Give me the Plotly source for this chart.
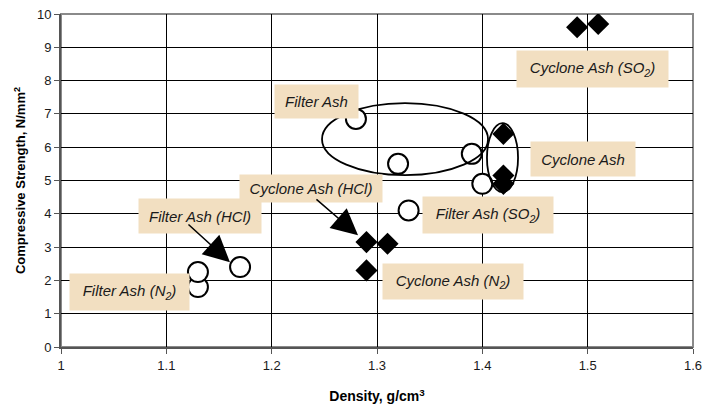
import plotly.graph_objects as go

# ---- data ----
filter_x = [1.13, 1.13, 1.17, 1.28, 1.32, 1.39, 1.40, 1.33]
filter_y = [1.8, 2.25, 2.4, 6.85, 5.5, 5.8, 4.9, 4.1]
cyclone_x = [1.29, 1.29, 1.31, 1.42, 1.42, 1.42, 1.49, 1.51]
cyclone_y = [2.3, 3.15, 3.1, 6.4, 5.15, 4.9, 9.6, 9.7]
x_ticks = [1, 1.1, 1.2, 1.3, 1.4, 1.5, 1.6]
y_ticks = list(range(0, 11))
labels = ["Filter Ash", "Cyclone Ash (SO<sub>2</sub>)", "Cyclone Ash",
          "Cyclone Ash (HCl)", "Filter Ash (HCl)", "Filter Ash (N<sub>2</sub>)",
          "Filter Ash (SO<sub>2</sub>)", "Cyclone Ash (N<sub>2</sub>)"]

FONT = "Liberation Sans, Arial, sans-serif"
fig = go.Figure()
fig.add_trace(go.Scatter(x=filter_x, y=filter_y, mode="markers",
                         marker=dict(symbol="circle", size=20, color="white",
                                     line=dict(color="black", width=2)),
                         showlegend=False))
fig.add_trace(go.Scatter(x=cyclone_x, y=cyclone_y, mode="markers",
                         marker=dict(symbol="diamond", size=17, color="black",
                                     line=dict(color="black", width=0)),
                         showlegend=False))

# label boxes: (x, y, width, height) in data / px
boxes = [
    (1.2426, 7.37, 83, 33),
    (1.5046, 8.35, 151, 36),
    (1.4956, 5.64, 104, 34),
    (1.2373, 4.77, 142, 27),
    (1.1320, 3.93, 122, 34),
    (1.0650, 1.64, 119, 36),
    (1.4054, 3.96, 130, 36),
    (1.3720, 1.96, 140, 35),
]
annotations = []
for t, (bx, by, w, h) in zip(labels, boxes):
    annotations.append(dict(x=bx, y=by, xref="x", yref="y", text="<i>" + t + "</i>",
                            showarrow=False, bgcolor="#F2DFC1", width=w - 6, height=h - 6,
                            borderpad=3, font=dict(family=FONT, size=15, color="#1a1a1a")))
# arrows: tip (x, y), tail (ax, ay)
for (tx, ty, ax, ay) in [(1.1604, 2.546, 1.1196, 3.718), (1.282, 3.357, 1.2411, 4.47)]:
    annotations.append(dict(x=tx, y=ty, ax=ax, ay=ay, xref="x", yref="y", axref="x", ayref="y",
                            text="", showarrow=True, arrowhead=2, arrowsize=3.5,
                            arrowwidth=1.5, arrowcolor="black"))

shapes = [
    dict(type="circle", xref="x", yref="y", x0=1.2478, x1=1.4054, y0=5.16, y1=7.325,
         line=dict(color="black", width=1.8)),
    dict(type="circle", xref="x", yref="y", x0=1.4044, x1=1.4339, y0=4.65, y1=6.72,
         line=dict(color="black", width=1.8)),
    dict(type="rect", xref="paper", yref="paper", x0=0, x1=1, y0=0, y1=1,
         line=dict(color="#8a8a8a", width=2), layer="below"),
]

fig.update_layout(
    width=706, height=411,
    margin=dict(l=61, r=13, t=14, b=64),
    paper_bgcolor="white", plot_bgcolor="white",
    font=dict(family=FONT, size=13, color="#1a1a1a"),
    annotations=annotations, shapes=shapes,
    xaxis=dict(range=[1, 1.6], tickvals=x_ticks, ticktext=[str(v) for v in x_ticks],
               automargin=False,
               showgrid=True, gridcolor="black", gridwidth=1,
               showline=True, linecolor="#555", linewidth=2,
               ticks="outside", ticklen=5, tickcolor="#555", zeroline=False,
               title=dict(text="<b>Density, g/cm<sup>3</sup></b>", standoff=20,
                          font=dict(size=14, color="black"))),
    yaxis=dict(range=[0, 10], tickvals=y_ticks, automargin=False,
               showgrid=True, gridcolor="black", gridwidth=1,
               showline=True, linecolor="#555", linewidth=2,
               ticks="outside", ticklen=5, tickcolor="#555", zeroline=False,
               title=dict(text="<b>Compressive Strength, N/mm<sup>2</sup></b>", standoff=8,
                          font=dict(size=13, color="black"))),
)
fig.write_html("out.html")
